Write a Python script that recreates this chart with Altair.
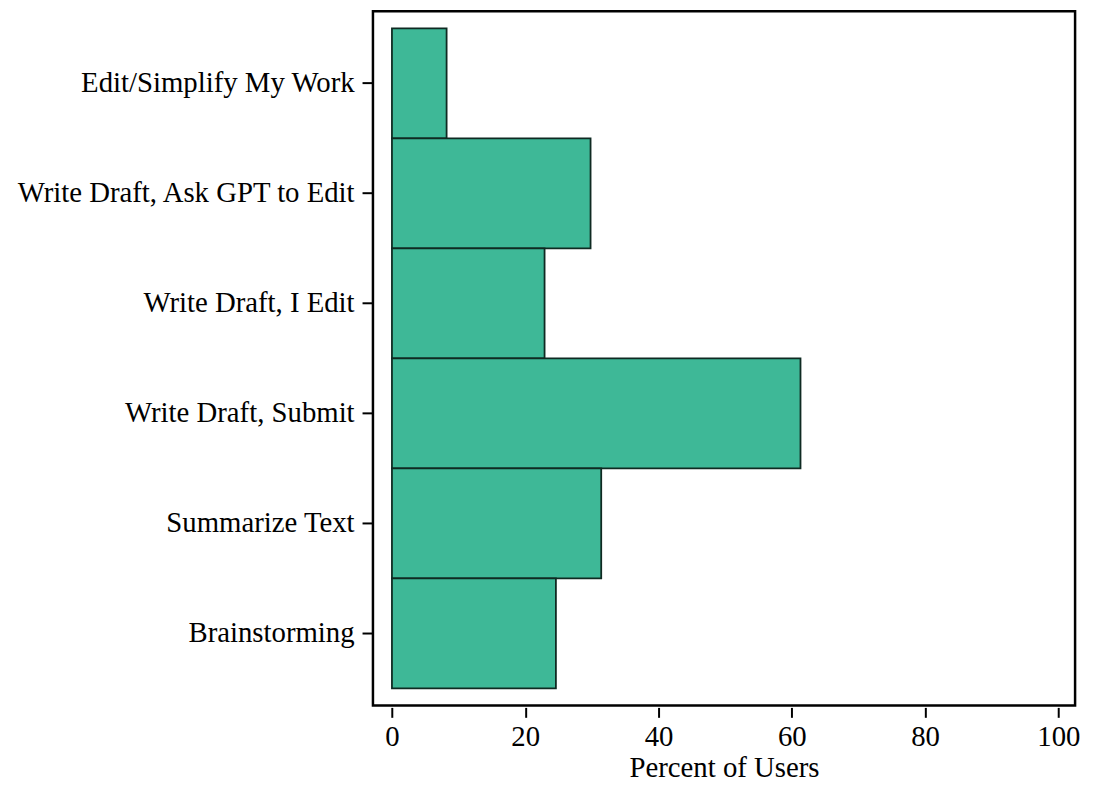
import altair as alt
import pandas as pd

categories = [
    "Edit/Simplify My Work",
    "Write Draft, Ask GPT to Edit",
    "Write Draft, I Edit",
    "Write Draft, Submit",
    "Summarize Text",
    "Brainstorming",
]
percent = [8.2, 29.8, 22.9, 61.3, 31.4, 24.6]
x_ticks = [0, 20, 40, 60, 80, 100]

df = pd.DataFrame({"task": categories, "pct": percent})

FONT = "Liberation Serif"
FS = 29

chart = (
    alt.Chart(df)
    .mark_bar(color="#3eb897", stroke="#0f2a22", strokeWidth=1.8, orient="horizontal")
    .encode(
        x=alt.X(
            "pct:Q",
            scale=alt.Scale(domain=[-2.85, 102.5], nice=False, zero=False),
            axis=alt.Axis(
                values=x_ticks,
                title="Percent of Users",
                domain=False,
                tickSize=10,
                tickWidth=2,
                tickColor="black",
                offset=2,
                labelFont=FONT,
                labelFontSize=FS,
                labelColor="black",
                labelPadding=5,
                titleFont=FONT,
                titleFontSize=FS,
                titleFontWeight="normal",
                titleColor="black",
                titlePadding=3,
                grid=False,
            ),
        ),
        y=alt.Y(
            "task:N",
            sort=categories,
            scale=alt.Scale(paddingInner=0, paddingOuter=0.155),
            axis=alt.Axis(
                title=None,
                domain=False,
                tickSize=11,
                tickWidth=2,
                tickColor="black",
                labelFont=FONT,
                labelFontSize=FS,
                labelColor="black",
                labelPadding=8,
                labelLimit=500,
                grid=False,
            ),
        ),
    )
    .properties(width=708, height=700)
    .configure(background="white", padding={"left": 7, "top": 0, "right": 5, "bottom": 0})
    .configure_view(stroke="black", strokeWidth=2.5)
)

chart.save("out.html", embed_options={"renderer": "svg", "actions": False})
